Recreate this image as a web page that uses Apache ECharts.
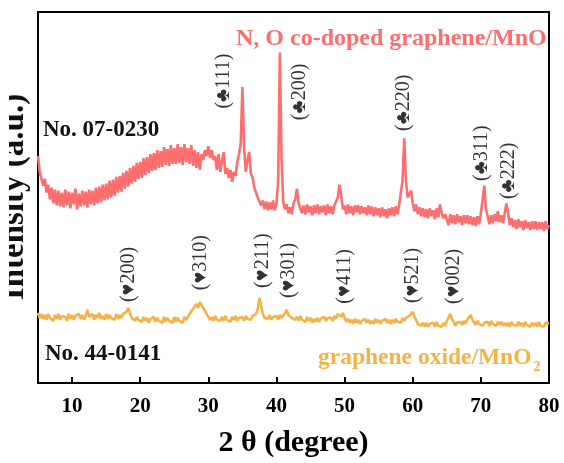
<!DOCTYPE html>
<html>
<head>
<meta charset="utf-8">
<script src="https://cdn.jsdelivr.net/npm/echarts@6/dist/echarts.min.js"></script>
<style>
  html, body { margin: 0; padding: 0; background: #fff; }
  #chart { width: 564px; height: 463px; }
</style>
</head>
<body>
<div id="chart"></div>
<script>
// XRD patterns, 2θ from 5° to 80° sampled every 0.25°
const twoThetaStart = 5;
const twoThetaStep = 0.25;

// N, O co-doped graphene/MnO (offset trace, a.u.)
const dopedMnO = [
  230, 214, 214, 200,  207, 193, 201, 186,  198, 182, 196, 180,  195, 179, 193, 178,
  196, 180, 194, 177,  193, 181, 197, 176,  192, 179, 195, 180,  194, 178, 196, 181,
  195, 180, 198, 182,  199, 183, 201, 185,  202, 186, 205, 188,  206, 190, 209, 193,
  210, 194, 213, 197,  215, 199, 218, 202,  220, 204, 223, 207,  224, 208, 228, 211,
  229, 213, 232, 215,  233, 216, 236, 218,  235, 219, 239, 221,  237, 220, 241, 222,
  238, 222, 242, 223,  239, 221, 242, 224,  238, 222, 241, 220,  236, 218, 234, 216,
  232, 226, 236, 230,  240, 228, 236, 226,  230, 216, 232, 214,  224, 234, 212, 218,
  208, 216, 204, 214,  210, 224, 232, 242,  300, 238, 214, 226,  234, 212, 208, 198,
  198, 188, 188, 180,  185, 176, 184, 175,  183, 176, 185, 175,  182, 205, 335, 226,
  184, 176, 181, 172,  178, 171, 182, 186,  197, 182, 180, 172,  180, 171, 181, 173,
  179, 170, 180, 172,  181, 171, 179, 173,  180, 170, 181, 172,  179, 171, 180, 182,
  188, 201, 190, 176,  180, 171, 181, 172,  179, 170, 180, 173,  180, 171, 179, 172,
  178, 170, 180, 171,  179, 169, 178, 170,  177, 168, 178, 169,  176, 167, 177, 170,
  178, 169, 179, 171,  180, 182, 205, 248,  205, 188, 186, 195,  182, 174, 181, 171,
  178, 169, 177, 168,  176, 167, 177, 169,  175, 166, 177, 168,  181, 172, 167, 171,
  169, 160, 171, 162,  170, 161, 171, 163,  169, 160, 170, 162,  170, 161, 169, 160,
  168, 159, 169, 161,  172, 185, 200, 176,  169, 161, 170, 162,  171, 164, 174, 163,
  170, 162, 172, 182,  172, 160, 167, 158,  165, 156, 166, 158,  164, 155, 165, 157,
  163, 155, 164, 156,  164, 155, 163, 156,  163, 154, 164, 156,  160
];

// graphene oxide/MnO2 (a.u.)
const grapheneOxideMnO2 = [
  71, 66, 70, 65,  69, 64, 70, 66,  68, 63, 69, 65,  70, 64, 68, 66,
  67, 63, 70, 65,  69, 64, 68, 66,  70, 65, 69, 64,  68, 74, 67, 65,
  70, 64, 69, 66,  71, 65, 68, 64,  70, 65, 69, 66,  68, 64, 70, 65,
  69, 66, 70, 68,  72, 76, 71, 66,  68, 63, 67, 64,  66, 62, 67, 63,
  66, 61, 65, 63,  67, 62, 66, 63,  65, 61, 67, 62,  66, 63, 65, 61,
  67, 62, 66, 63,  65, 61, 67, 64,  66, 70, 68, 75,  73, 80, 76, 82,
  79, 76, 73, 70,  68, 64, 67, 63,  68, 64, 66, 63,  67, 63, 68, 64,
  66, 62, 67, 64,  68, 63, 66, 64,  67, 63, 68, 65,  67, 64, 68, 66,
  70, 75, 86, 78,  70, 66, 68, 65,  69, 64, 67, 65,  68, 64, 69, 66,
  68, 71, 74, 69,  70, 66, 68, 64,  67, 63, 68, 64,  66, 62, 67, 63,
  66, 61, 65, 62,  66, 62, 65, 63,  67, 63, 66, 64,  66, 63, 68, 65,
  70, 72, 67, 71,  66, 62, 65, 61,  64, 60, 65, 61,  64, 60, 63, 61,
  65, 61, 64, 60,  63, 60, 65, 61,  64, 60, 63, 61,  65, 61, 64, 60,
  64, 61, 65, 62,  64, 61, 66, 63,  66, 64, 68, 70,  72, 67, 64, 60,
  62, 58, 61, 57,  61, 57, 60, 58,  61, 57, 62, 58,  60, 57, 61, 58,
  63, 66, 70, 65,  62, 58, 61, 59,  62, 59, 63, 60,  64, 66, 69, 64,
  62, 59, 63, 60,  62, 58, 61, 59,  62, 58, 63, 60,  61, 58, 62, 59,
  62, 58, 61, 58,  61, 57, 62, 59,  61, 58, 62, 58,  61, 57, 62, 59,
  60, 57, 61, 58,  61, 57, 62, 58,  60, 57, 61, 59,  60
];

// Indexed reflections: hkl, 2θ where the label sits, label height (a.u.)
const mnoHkl    = ['111', '200', '220', '311', '222'];
const mnoAt     = [32.2, 43.45, 58.75, 70.2, 74.1];
const mnoLevel  = [306, 295, 284, 233, 215];

const mno2Hkl   = ['200', '310', '211', '301', '411', '521', '002'];
const mno2At    = [18.25, 28.9, 37.95, 41.85, 50.05, 60.05, 65.95];
const mno2Level = [110, 122, 124, 114, 108, 109, 108];

const xTicks = [10, 20, 30, 40, 50, 60, 70, 80];

const RED = '#FF6E6E';
const ORANGE = '#F6B247';
const SERIF = '"Liberation Serif", "Times New Roman", serif';

function toPairs(values) {
  return values.map((v, i) => [twoThetaStart + i * twoThetaStep, v]);
}

function reflectionPoints(hkl, at, level, mark) {
  return hkl.map((h, i) => ({ value: [at[i], level[i]], name: '(' + mark + h + ')' }));
}

const chart = echarts.init(document.getElementById('chart'), null, { renderer: 'canvas' });

chart.setOption({
  animation: false,
  backgroundColor: '#fff',
  grid: {
    left: 38, right: 15, top: 12, bottom: 75,
    show: true, borderColor: '#000', borderWidth: 2, backgroundColor: 'transparent'
  },
  xAxis: {
    type: 'value',
    min: 5, max: 80,
    splitLine: { show: false },
    axisLine: { show: true, lineStyle: { color: '#000', width: 2 } },
    axisTick: { show: true, inside: true, length: 6, lineStyle: { color: '#000', width: 2 }, customValues: xTicks },
    axisLabel: {
      customValues: xTicks, margin: 13,
      color: '#000', fontSize: 21, fontWeight: 'bold', fontFamily: SERIF
    },
    name: '2 θ (degree)',
    nameLocation: 'middle',
    nameGap: 45,
    nameTextStyle: { color: '#000', fontSize: 30, fontWeight: 'bold', fontFamily: SERIF }
  },
  yAxis: {
    type: 'value', min: 0, max: 376, show: false
  },
  series: [
    {
      type: 'line', data: toPairs(dopedMnO), showSymbol: false, symbol: 'none',
      lineStyle: { color: RED, width: 2.6 }, z: 3
    },
    {
      type: 'line', data: toPairs(grapheneOxideMnO2), showSymbol: false, symbol: 'none',
      lineStyle: { color: ORANGE, width: 2.6 }, z: 3
    },
    {
      type: 'scatter', symbolSize: 0, silent: true, z: 4,
      data: reflectionPoints(mnoHkl, mnoAt, mnoLevel, '♣')
        .concat(reflectionPoints(mno2Hkl, mno2At, mno2Level, '♥')),
      label: {
        show: true, position: 'inside', rotate: 90,
        formatter: p => p.name,
        color: '#000', fontSize: 20, fontFamily: SERIF
      }
    }
  ],
  graphic: [
    {
      type: 'text', left: 236, top: 27, z: 10,
      style: { text: 'N, O co-doped graphene/MnO', fill: RED, font: 'bold 24px ' + SERIF }
    },
    {
      type: 'text', left: 43, top: 119, z: 10,
      style: { text: 'No. 07-0230', fill: '#111', font: 'bold 23px ' + SERIF }
    },
    {
      type: 'text', left: 45, top: 343, z: 10,
      style: { text: 'No. 44-0141', fill: '#111', font: 'bold 23px ' + SERIF }
    },
    {
      type: 'text', left: 318, top: 346, z: 10,
      style: {
        text: '{a|graphene oxide/MnO}{b|2}',
        rich: {
          a: { fill: ORANGE, font: 'bold 23.5px ' + SERIF, lineHeight: 26, verticalAlign: 'bottom' },
          b: { fill: ORANGE, font: 'bold 14px ' + SERIF, lineHeight: 14, verticalAlign: 'bottom', padding: [0, 0, -4, 2] }
        }
      }
    },
    {
      type: 'text', x: 14, y: 197, rotation: Math.PI / 2, z: 10,
      style: {
        text: 'Intensity (a.u.)', fill: '#111', font: 'bold 33px ' + SERIF,
        textAlign: 'center', textVerticalAlign: 'middle'
      }
    },
    {
      type: 'rect', shape: { x: 0, y: 60, width: 9, height: 280 }, z: 11,
      style: { fill: '#fff' }, silent: true
    }
  ]
});
</script>
</body>
</html>
